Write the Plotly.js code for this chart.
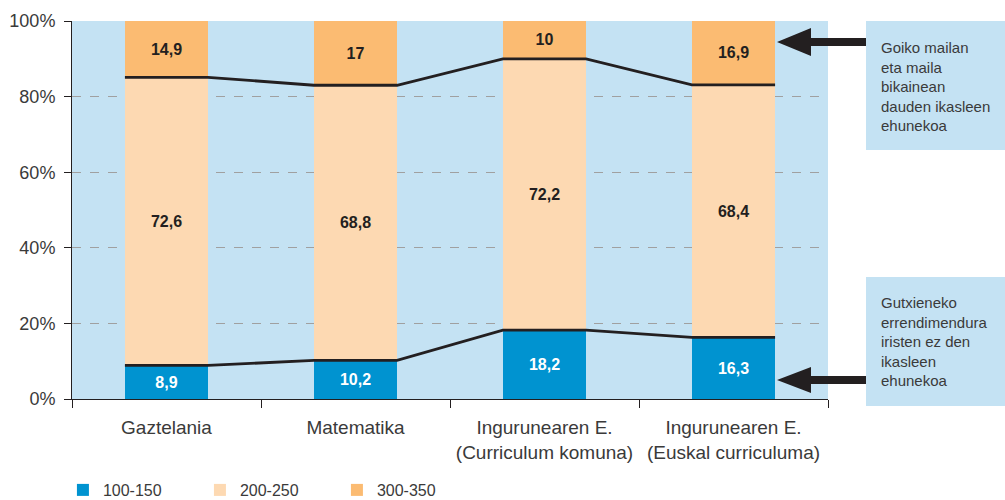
<!DOCTYPE html>
<html>
<head>
<meta charset="utf-8">
<script src="https://cdn.plot.ly/plotly-3.0.1.min.js"></script>
<style>html,body{margin:0;padding:0;background:#fff}#chart{width:1005px;height:500px}</style>
</head>
<body>
<div id="chart"></div>
<script>
// ---- data ----
const categories = ['Gaztelania', 'Matematika', 'Ingurunearen E.<br>(Curriculum komuna)', 'Ingurunearen E.<br>(Euskal curriculuma)'];
const low = [8.9, 10.2, 18.2, 16.3];      // 100-150
const mid = [72.6, 68.8, 72.2, 68.4];     // 200-250
const high = [14.9, 17, 10, 16.9];        // 300-350
const seriesNames = ['100-150', '200-250', '300-350'];
const yTickVals = [0, 20, 40, 60, 80, 100];
const yTickText = ['0%', '20%', '40%', '60%', '80%', '100%'];
const noteTop = 'Goiko mailan<br>eta maila<br>bikainean<br>dauden ikasleen<br>ehunekoa';
const noteBottom = 'Gutxieneko<br>errendimendura<br>iristen ez den<br>ikasleen<br>ehunekoa';

// ---- styling ----
const FONT = '"Liberation Sans", Arial, sans-serif';
const C_LOW = '#0093d0', C_MID = '#fdd9b2', C_HIGH = '#fbbb72', C_BG = '#c4e2f3', C_TXT = '#3a3a3a';
const BARW = 0.44;
const fmt = v => String(v).replace('.', ',');

// middle segment fills the bar between the bottom and top groups (as drawn in the source)
const midHeight = low.map((v, i) => 100 - v - high[i]);
const topEdge = high.map(v => 100 - v);

const idx = categories.map((c, i) => i);
const lineX = [], lineLow = [], lineHigh = [];
idx.forEach(i => {
  lineX.push(i - BARW / 2, i + BARW / 2);
  lineLow.push(low[i], low[i]);
  lineHigh.push(topEdge[i], topEdge[i]);
});

const barCommon = {type: 'bar', x: categories, textposition: 'inside', insidetextanchor: 'middle',
  textangle: 0, constraintext: 'none', hoverinfo: 'skip'};

const traces = [
  Object.assign({}, barCommon, {name: seriesNames[0], y: low, text: low.map(fmt),
    marker: {color: C_LOW, line: {width: 0}}, textfont: {family: FONT, size: 16, color: '#ffffff', weight: 'bold'}}),
  Object.assign({}, barCommon, {name: seriesNames[1], y: midHeight, text: mid.map(fmt),
    marker: {color: C_MID, line: {width: 0}}, textfont: {family: FONT, size: 16, color: '#231f20', weight: 'bold'}}),
  Object.assign({}, barCommon, {name: seriesNames[2], y: high, text: high.map(fmt),
    marker: {color: C_HIGH, line: {width: 0}}, textfont: {family: FONT, size: 16, color: '#231f20', weight: 'bold'}}),
  {type: 'scatter', mode: 'lines', x: lineX, y: lineLow, xaxis: 'x2', showlegend: false,
    line: {color: '#231f20', width: 2.8}, hoverinfo: 'skip'},
  {type: 'scatter', mode: 'lines', x: lineX, y: lineHigh, xaxis: 'x2', showlegend: false,
    line: {color: '#231f20', width: 2.8}, hoverinfo: 'skip'}
];

// pixel -> paper helpers for decorations
const L = 72, R = 177, T = 21, B = 101, PW = 1005 - L - R, PH = 500 - T - B;
const px = x => (x - L) / PW;
const py = y => (500 - B - y) / PH;
const arrowPath = (tipX, tipY, headBack, headHalf, shaftHalf, tailX) =>
  'M' + px(tipX) + ',' + py(tipY) +
  ' L' + px(headBack) + ',' + py(tipY - headHalf) +
  ' L' + px(headBack) + ',' + py(tipY - shaftHalf) +
  ' L' + px(tailX) + ',' + py(tipY - shaftHalf) +
  ' L' + px(tailX) + ',' + py(tipY + shaftHalf) +
  ' L' + px(headBack) + ',' + py(tipY + shaftHalf) +
  ' L' + px(headBack) + ',' + py(tipY + headHalf) + ' Z';

const layout = {
  width: 1005, height: 500,
  margin: {l: L, r: R, t: T, b: B, pad: 0, autoexpand: false},
  paper_bgcolor: '#ffffff', plot_bgcolor: C_BG,
  barmode: 'stack', bargap: 1 - BARW,
  font: {family: FONT, color: C_TXT},
  showlegend: true,
  legend: {orientation: 'h', x: -0.012, xanchor: 'left', y: py(473), yanchor: 'top',
    font: {family: FONT, size: 16, color: C_TXT}, entrywidth: 92, entrywidthmode: 'pixels',
    traceorder: 'normal', bgcolor: 'rgba(0,0,0,0)'},
  xaxis: {type: 'category', tickson: 'boundaries', ticks: 'outside', ticklen: 8, tickwidth: 1,
    tickcolor: '#231f20', showline: true, linecolor: '#231f20', linewidth: 1, showgrid: false,
    tickangle: 0, automargin: false, ticklabelstandoff: 11,
    tickfont: {family: FONT, size: 19, color: C_TXT}, fixedrange: true},
  xaxis2: {overlaying: 'x', range: [-0.5, categories.length - 0.5], visible: false, fixedrange: true},
  yaxis: {range: [0, 100], tickvals: yTickVals, ticktext: yTickText, ticks: 'outside', ticklen: 7,
    tickcolor: '#231f20', showline: true, linecolor: '#231f20', linewidth: 1, automargin: false,
    ticklabelstandoff: 5,
    showgrid: true, gridcolor: '#a0a0a0', griddash: 'dash', gridwidth: 1, zeroline: false,
    tickfont: {family: FONT, size: 18, color: C_TXT}, fixedrange: true},
  shapes: [
    {type: 'rect', xref: 'paper', yref: 'paper', x0: px(866), x1: px(1010), y0: py(150), y1: py(21),
      fillcolor: C_BG, line: {width: 0}, layer: 'below'},
    {type: 'rect', xref: 'paper', yref: 'paper', x0: px(866), x1: px(1010), y0: py(406), y1: py(277),
      fillcolor: C_BG, line: {width: 0}, layer: 'below'},
    {type: 'path', xref: 'paper', yref: 'paper', path: arrowPath(777, 42, 811, 14, 4, 866),
      fillcolor: '#231f20', line: {width: 0}},
    {type: 'path', xref: 'paper', yref: 'paper', path: arrowPath(777, 380, 811, 13, 4, 866),
      fillcolor: '#231f20', line: {width: 0}}
  ],
  annotations: [
    {xref: 'paper', yref: 'paper', x: px(879), y: py(37), xanchor: 'left', yanchor: 'top',
      text: noteTop, showarrow: false, align: 'left', font: {family: FONT, size: 15, color: C_TXT}},
    {xref: 'paper', yref: 'paper', x: px(879), y: py(292), xanchor: 'left', yanchor: 'top',
      text: noteBottom, showarrow: false, align: 'left', font: {family: FONT, size: 15, color: C_TXT}}
  ]
};

Plotly.newPlot('chart', traces, layout, {displayModeBar: false, staticPlot: true});
</script>
</body>
</html>
